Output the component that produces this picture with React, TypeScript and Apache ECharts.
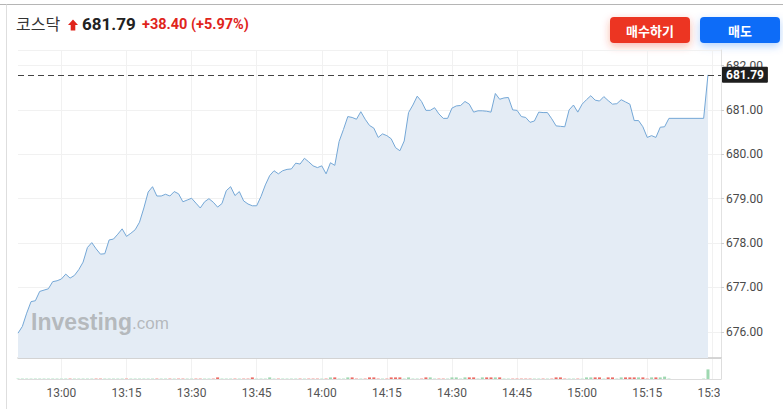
import React, { useEffect, useRef } from "react";
import * as echarts from "echarts";

// ---- data ----
const indexName = "코스닥";
const lastPriceText = "681.79";
const changeText = "+38.40 (+5.97%)";
const buyLabel = "매수하기";
const sellLabel = "매도";

const times = [
  "12:50","12:51","12:52","12:53","12:54","12:55","12:56","12:57","12:58","12:59",
  "13:00","13:01","13:02","13:03","13:04","13:05","13:06","13:07","13:08","13:09",
  "13:10","13:11","13:12","13:13","13:14","13:15","13:16","13:17","13:18","13:19",
  "13:20","13:21","13:22","13:23","13:24","13:25","13:26","13:27","13:28","13:29",
  "13:30","13:31","13:32","13:33","13:34","13:35","13:36","13:37","13:38","13:39",
  "13:40","13:41","13:42","13:43","13:44","13:45","13:46","13:47","13:48","13:49",
  "13:50","13:51","13:52","13:53","13:54","13:55","13:56","13:57","13:58","13:59",
  "14:00","14:01","14:02","14:03","14:04","14:05","14:06","14:07","14:08","14:09",
  "14:10","14:11","14:12","14:13","14:14","14:15","14:16","14:17","14:18","14:19",
  "14:20","14:21","14:22","14:23","14:24","14:25","14:26","14:27","14:28","14:29",
  "14:30","14:31","14:32","14:33","14:34","14:35","14:36","14:37","14:38","14:39",
  "14:40","14:41","14:42","14:43","14:44","14:45","14:46","14:47","14:48","14:49",
  "14:50","14:51","14:52","14:53","14:54","14:55","14:56","14:57","14:58","14:59",
  "15:00","15:01","15:02","15:03","15:04","15:05","15:06","15:07","15:08","15:09",
  "15:10","15:11","15:12","15:13","15:14","15:15","15:16","15:17","15:18","15:19",
  "15:20","15:28","15:29",
];

const prices = [
  675.97,676.12,676.42,676.68,676.70,676.91,676.94,676.97,677.13,677.15,
  677.19,677.30,677.21,677.27,677.40,677.57,677.90,678.01,677.87,677.75,
  677.76,678.07,678.09,678.20,678.32,678.15,678.22,678.30,678.47,678.79,
  679.15,679.27,679.06,679.06,679.10,679.06,679.16,679.11,678.93,678.97,
  679.01,678.90,678.79,678.93,679.00,678.92,678.81,678.89,679.18,679.27,
  679.07,679.16,678.95,678.88,678.84,678.84,679.05,679.31,679.52,679.63,
  679.56,679.63,679.66,679.67,679.80,679.78,679.91,679.83,679.74,679.70,
  679.74,679.56,679.81,679.75,680.29,680.56,680.85,680.83,680.79,680.96,
  680.79,680.65,680.59,680.38,680.46,680.42,680.35,680.15,680.08,680.30,
  680.94,681.11,681.31,681.19,680.99,680.99,681.05,680.91,680.81,680.81,
  681.04,681.09,681.10,681.19,681.13,680.95,680.98,680.98,680.97,680.95,
  681.37,681.24,681.27,681.28,681.00,680.99,680.85,680.83,680.72,680.75,
  680.95,680.94,680.94,680.80,680.64,680.63,680.62,681.00,681.11,680.95,
  681.13,681.23,681.32,681.22,681.20,681.30,681.21,681.13,681.14,681.23,
  681.18,681.13,680.76,680.76,680.62,680.38,680.42,680.38,680.61,680.62,
  680.81,680.81,681.79,
];

const volumes = [
  1,1,1,1,1,1,1,1,1,1,
  1,1,1,1,1,1,1,1,1,1,
  1,1,1,1,1,1,1,1,1,1,
  1,1,1,1,1,1,1,1,1,1,
  1,1,1,1,1,1,2,1,1,1,
  1,1,1,1,2,1,1,1,2,1,
  1,1,1,1,1,1,1,1,1,1,
  1,1,2,2,1,1,2,2,1,1,
  1,2,2,1,1,1,2,2,2,1,
  2,1,1,1,2,2,1,1,1,1,
  2,2,1,2,2,2,1,2,2,2,
  2,2,1,1,1,1,1,1,1,1,
  1,1,1,1,2,2,1,1,1,1,
  1,2,2,2,2,1,2,2,1,2,
  2,2,2,2,2,1,2,2,2,3,
  1,1,12,
];

const lastPrice = 681.79;
const yMin = 675.41;
const yMax = 682.35;

// category axis: every minute from 12:50 to 15:32
const axisStart = "12:50";
const axisEnd = "15:32";

function buildCategories(start: string, end: string): string[] {
  const toMin = (s: string) => {
    const [h, m] = s.split(":").map(Number);
    return h * 60 + m;
  };
  const out: string[] = [];
  for (let t = toMin(start); t <= toMin(end); t++) {
    const h = Math.floor(t / 60);
    const m = t % 60;
    out.push(`${h}:${m < 10 ? "0" + m : m}`);
  }
  return out;
}

const FONT = 'Roboto, "Noto Sans", "Noto Sans CJK KR", sans-serif';

export default function App() {
  const ref = useRef<HTMLDivElement>(null);

  useEffect(() => {
    document.body.style.margin = "0";
    if (!ref.current) return;
    const chart = echarts.init(ref.current, null, { renderer: "svg" });
    const categories = buildCategories(axisStart, axisEnd);
    const isQuarter = (v: string) => /:(00|15|30|45)$/.test(v);
    const tickInterval = (_i: number, v: string) => isQuarter(v);

    const linePts = times.map((t, i) => [t, prices[i]]);
    const volPts = times.map((t, i) => {
      const up = i === 0 ? true : prices[i] >= prices[i - 1];
      const strong = volumes[i] >= 2;
      const color = up
        ? strong ? "#9fd8b1" : "#cfeedb"
        : strong ? "#ec6a63" : "#f6bdb9";
      return { value: [t, volumes[i]], itemStyle: { color } };
    });

    chart.setOption({
      animation: false,
      textStyle: { fontFamily: FONT },
      grid: [
        { left: 18, right: 62, top: 50, height: 308 },
        { left: 18, right: 62, top: 359, height: 20 },
      ],
      xAxis: [
        {
          type: "category",
          gridIndex: 0,
          data: categories,
          boundaryGap: false,
          axisLine: { show: true, lineStyle: { color: "#c9c9c9", width: 1.5 } },
          axisTick: { show: false },
          axisLabel: { show: false },
          splitLine: { show: true, interval: tickInterval, lineStyle: { color: "#f1f1f1", width: 1 } },
        },
        {
          type: "category",
          gridIndex: 1,
          data: categories,
          boundaryGap: false,
          axisLine: { show: true, lineStyle: { color: "#dddddd", width: 1 } },
          axisTick: { show: false },
          axisLabel: {
            interval: tickInterval,
            color: "#555",
            fontSize: 12,
            margin: 8,
            fontFamily: FONT,
          },
          splitLine: { show: true, interval: tickInterval, lineStyle: { color: "#f1f1f1", width: 1 } },
        },
      ],
      yAxis: [
        {
          type: "value",
          gridIndex: 0,
          position: "right",
          min: yMin,
          max: yMax,
          splitNumber: 7,
          axisLine: { show: true, lineStyle: { color: "#e2e2e2" } },
          axisTick: { show: true, length: 3, lineStyle: { color: "#cfcfcf" } },
          axisLabel: {
            color: "#4a4a4a",
            fontSize: 12,
            margin: 5,
            showMinLabel: false,
            showMaxLabel: false,
            formatter: (v: number) => v.toFixed(2),
            fontFamily: FONT,
          },
          splitLine: { show: true, lineStyle: { color: "#f1f1f1" } },
        },
        {
          type: "value",
          gridIndex: 1,
          position: "right",
          min: 0,
          max: 25,
          axisLine: { show: true, lineStyle: { color: "#dddddd" } },
          axisTick: { show: false },
          axisLabel: { show: false },
          splitLine: { show: false },
        },
      ],
      series: [
        {
          type: "line",
          xAxisIndex: 0,
          yAxisIndex: 0,
          data: linePts,
          showSymbol: false,
          symbol: "none",
          lineStyle: { color: "#74a7d6", width: 1 },
          areaStyle: { color: "#e4ecf5", opacity: 1 },
          z: 3,
          markLine: {
            silent: true,
            symbol: ["none", "none"],
            lineStyle: { type: [6, 4], color: "#444", width: 1 },
            label: {
              show: true,
              position: "end",
              distance: 1,
              formatter: () => lastPrice.toFixed(2),
              backgroundColor: "#1e1e1e",
              color: "#fff",
              fontWeight: "bold",
              fontSize: 12,
              padding: [2, 4, 2, 4],
              borderRadius: 1,
              fontFamily: FONT,
            },
            data: [{ yAxis: lastPrice }],
          },
        },
        {
          type: "bar",
          xAxisIndex: 1,
          yAxisIndex: 1,
          data: volPts,
          barWidth: 3,
        },
      ],
      graphic: [
        // outer frame
        { type: "line", shape: { x1: 0, y1: 4.5, x2: 783, y2: 4.5 }, style: { stroke: "#b5b5b5", lineWidth: 1 } },
        { type: "line", shape: { x1: 6.5, y1: 4.5, x2: 6.5, y2: 409 }, style: { stroke: "#dedede", lineWidth: 1 } },
        // header
        {
          type: "text",
          left: 16,
          top: 15,
          style: { text: indexName, fontSize: 16, fill: "#333", fontFamily: '"Noto Sans CJK KR", sans-serif' },
        },
        {
          type: "polygon",
          shape: { points: [[73, 19.5], [78, 25], [75.3, 25], [75.3, 30.5], [70.7, 30.5], [70.7, 25], [68, 25]] },
          style: { fill: "#e0241b" },
        },
        {
          type: "text",
          left: 82,
          top: 15,
          style: { text: lastPriceText, fontSize: 17, fontWeight: "bold", fill: "#222", fontFamily: FONT },
        },
        {
          type: "text",
          left: 142,
          top: 17,
          style: { text: changeText, fontSize: 14.5, fontWeight: "bold", fill: "#e0241b", fontFamily: FONT },
        },
        // buttons
        {
          type: "rect",
          shape: { x: 610, y: 17, width: 80, height: 26, r: 4 },
          style: { fill: "#ec3424", shadowBlur: 8, shadowColor: "rgba(236,52,36,0.35)", shadowOffsetY: 3 },
        },
        {
          type: "text",
          x: 650,
          y: 30,
          style: { text: buyLabel, fontSize: 13, fontWeight: "bold", fill: "#fff", align: "center", verticalAlign: "middle", fontFamily: '"Noto Sans CJK KR", sans-serif' },
        },
        {
          type: "rect",
          shape: { x: 700, y: 17, width: 80, height: 26, r: 4 },
          style: { fill: "#0a6cf8", shadowBlur: 8, shadowColor: "rgba(10,108,248,0.3)", shadowOffsetY: 3 },
        },
        {
          type: "text",
          x: 740,
          y: 30,
          style: { text: sellLabel, fontSize: 13, fontWeight: "bold", fill: "#fff", align: "center", verticalAlign: "middle", fontFamily: '"Noto Sans CJK KR", sans-serif' },
        },
        // watermark
        {
          type: "text",
          left: 31,
          top: 310,
          z: 10,
          style: {
            text: "{a|Investing}{b|.com}",
            rich: {
              a: { fontSize: 23, fontWeight: "bold", fill: "rgba(140,140,140,0.55)", fontFamily: '"Liberation Sans", Arial, sans-serif' },
              b: { fontSize: 17, fill: "rgba(140,140,140,0.55)", fontFamily: '"Liberation Sans", Arial, sans-serif', padding: [4, 0, 0, 0] },
            },
          },
        },
        // clip the last time label like the reference
        { type: "rect", z: 100, shape: { x: 720, y: 382, width: 62, height: 20 }, style: { fill: "#fff" } },
      ],
    });

    return () => chart.dispose();
  }, []);

  return <div ref={ref} style={{ width: 783, height: 409 }} />;
}
